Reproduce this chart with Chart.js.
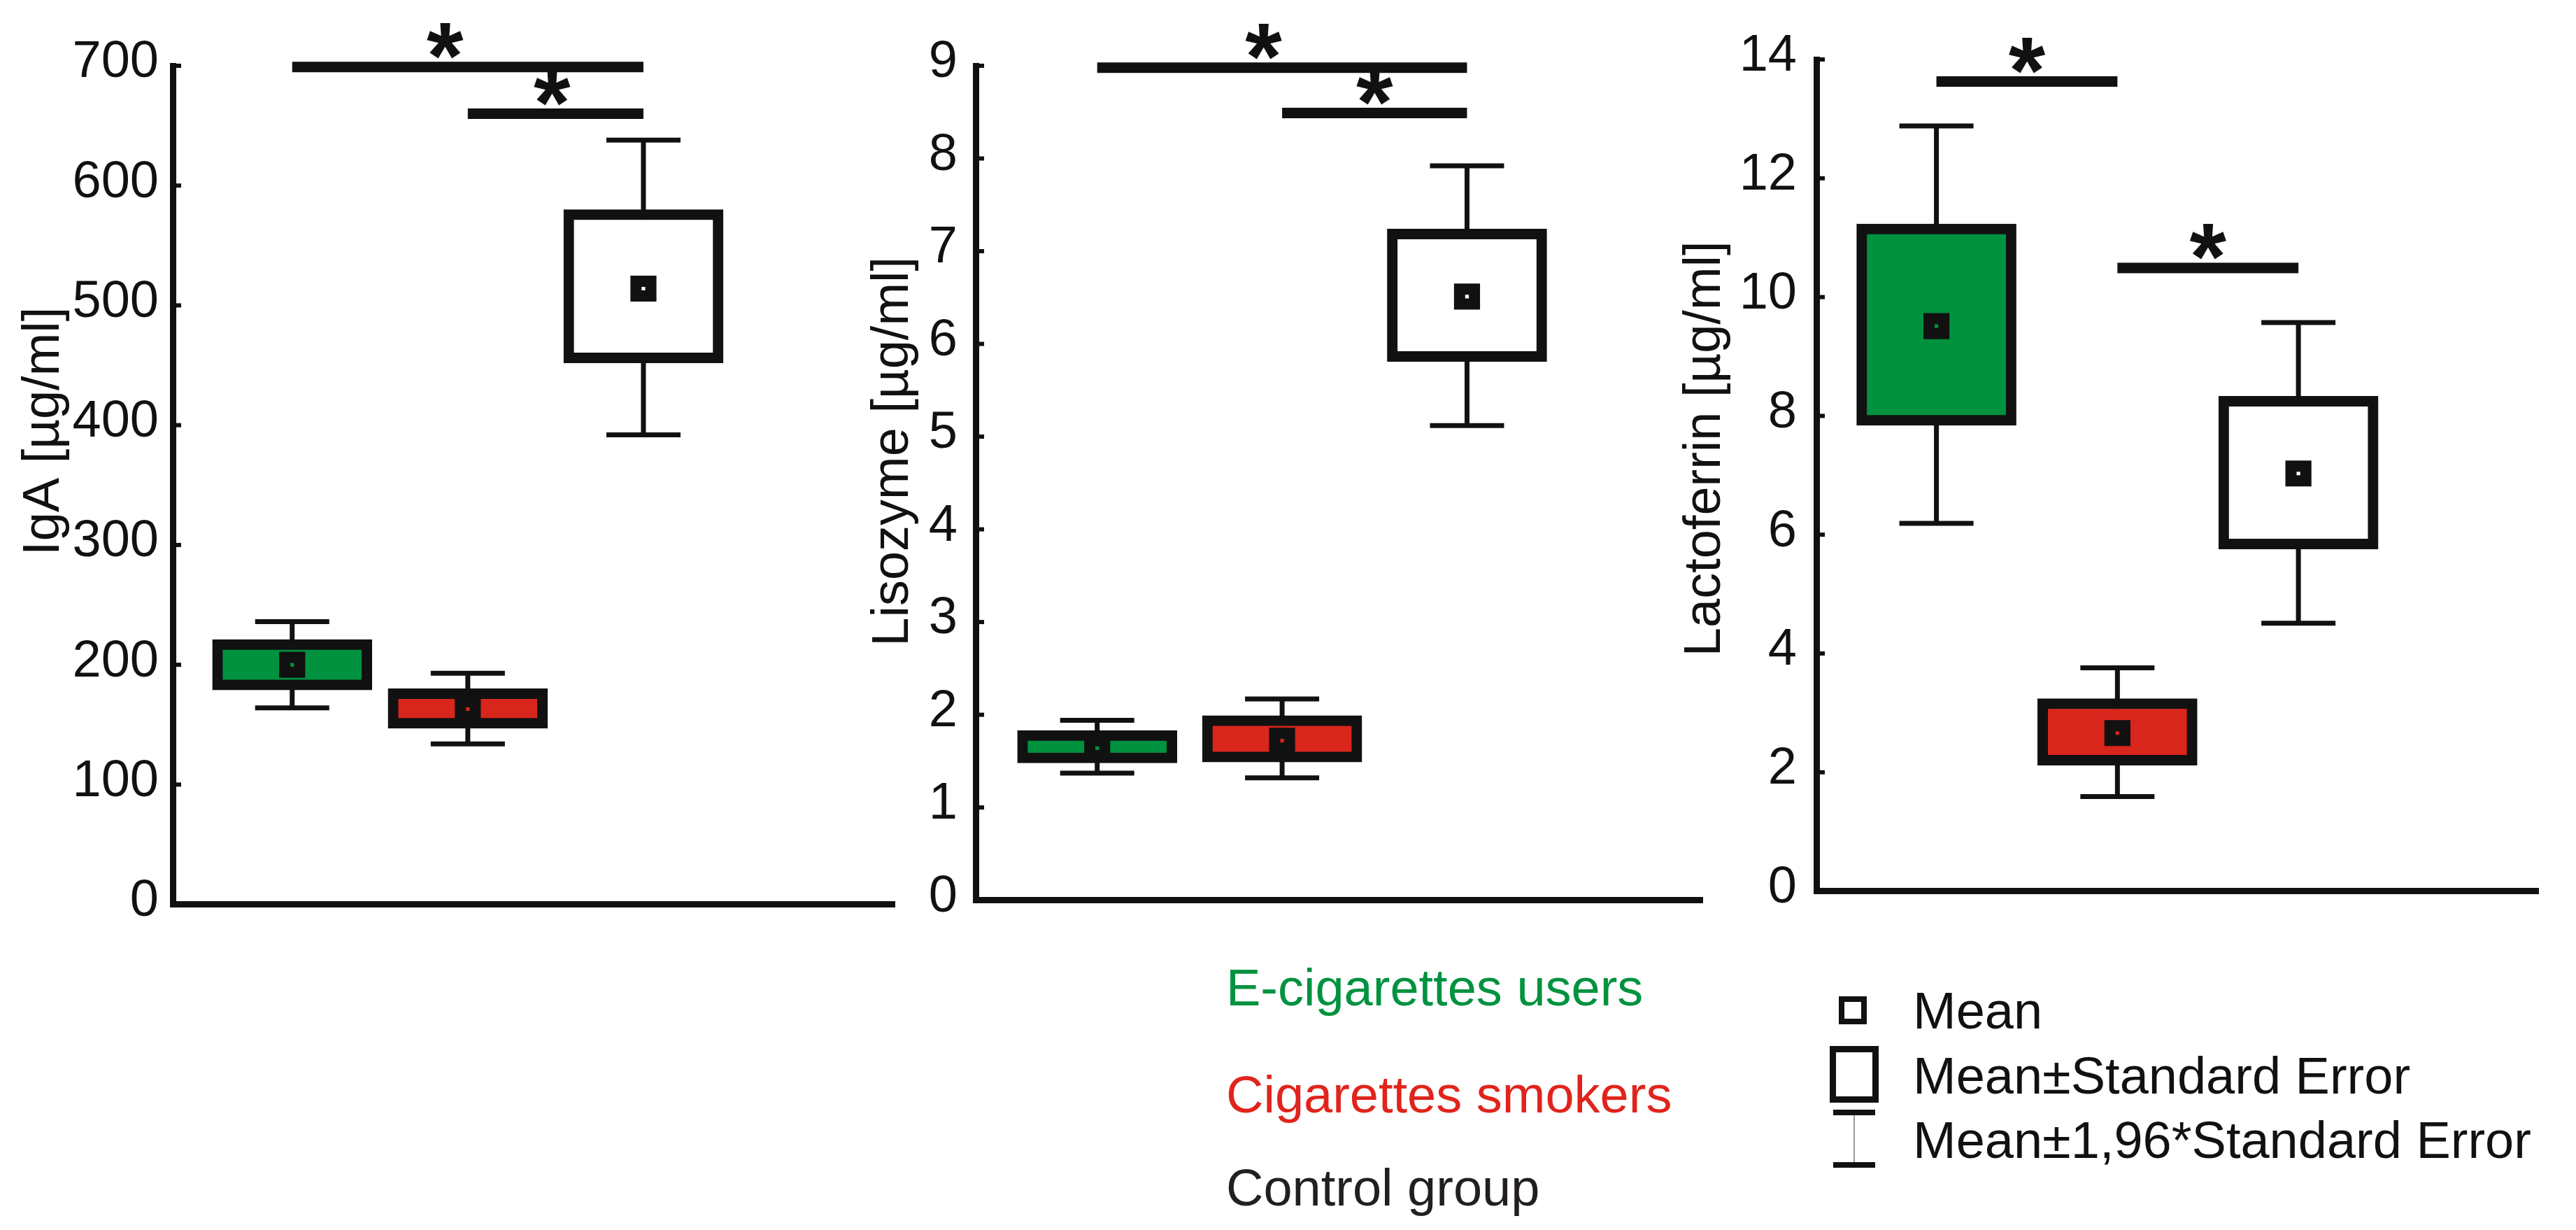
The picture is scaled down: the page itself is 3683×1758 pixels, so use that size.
<!DOCTYPE html>
<html>
<head>
<meta charset="utf-8">
<script src="https://cdn.jsdelivr.net/npm/chart.js@4.4.0/dist/chart.umd.min.js"></script>
<style>
  html, body { margin: 0; padding: 0; background: #fff; }
  #page { position: relative; width: 3683px; height: 1758px; overflow: hidden; background: #fff;
          font-family: "Liberation Sans", Arial, Helvetica, sans-serif; }
  canvas { position: absolute; }
  .txt { position: absolute; font-size: 74px; line-height: 80px; height: 80px; white-space: nowrap; }
  .sym { position: absolute; box-sizing: border-box; }
</style>
</head>
<body>
<div id="page">
  <canvas id="c1" width="1310" height="1357" style="left:0px;top:0px"></canvas>
  <canvas id="c2" width="1265" height="1357" style="left:1200px;top:0px"></canvas>
  <canvas id="c3" width="1280" height="1346" style="left:2380px;top:0px"></canvas>

  <div class="txt" style="left:1753px;top:1372px;color:#00923f">E-cigarettes users</div>
  <div class="txt" style="left:1753px;top:1525px;color:#e0241c">Cigarettes smokers</div>
  <div class="txt" style="left:1753px;top:1658px;color:#231f20">Control group</div>

  <div class="sym" style="left:2629px;top:1424px;width:40px;height:40px;border:8px solid #111;background:#fff"></div>
  <div class="txt" style="left:2735px;top:1405px;color:#111">Mean</div>

  <div class="sym" style="left:2616px;top:1495px;width:70px;height:81px;border:9px solid #111;background:#fff"></div>
  <div class="txt" style="left:2735px;top:1498px;color:#111">Mean±Standard Error</div>

  <div class="sym" style="left:2621px;top:1586px;width:60px;height:8px;background:#111"></div>
  <div class="sym" style="left:2650px;top:1594px;width:2px;height:67px;background:#999"></div>
  <div class="sym" style="left:2621px;top:1661px;width:60px;height:8px;background:#111"></div>
  <div class="txt" style="left:2735px;top:1590px;color:#111">Mean±1,96*Standard Error</div>
</div>
<script>
const font = "'Liberation Sans', Arial, Helvetica, sans-serif";
const ink = '#111111';

// groups, same order in every panel
const groups = ['E-cigarettes users', 'Cigarettes smokers', 'Control group'];
const groupPos = [1, 2, 3];
const groupFill = ['#00923f', '#d9261c', '#ffffff'];

// IgA [µg/ml]
const igaTicks = [0, 100, 200, 300, 400, 500, 600, 700];
const igaMean = [200, 163, 514];
const igaSe = [[179, 221], [147, 180], [452, 580]];
const igaCi = [[164, 236], [134, 193], [392, 638]];
const igaSig = [[1, 3, 699, 1.87], [2, 3, 660, 2.48]]; // from, to, level, star position

// Lisozyme [µg/ml]
const lisTicks = [0, 1, 2, 3, 4, 5, 6, 7, 8, 9];
const lisMean = [1.64, 1.72, 6.51];
const lisSe = [[1.48, 1.83], [1.49, 1.99], [5.81, 7.24]];
const lisCi = [[1.37, 1.94], [1.32, 2.17], [5.12, 7.92]];
const lisSig = [[1, 3, 8.98, 1.9], [2, 3, 8.49, 2.5]];

// Lactoferrin [µg/ml]
const lacTicks = [0, 2, 4, 6, 8, 10, 12, 14];
const lacMean = [9.51, 2.66, 7.03];
const lacSe = [[7.84, 11.23], [2.12, 3.24], [5.76, 8.33]];
const lacCi = [[6.19, 12.88], [1.59, 3.76], [4.51, 9.57]];
const lacSig = [[1, 2, 13.63, 1.5], [2, 3, 10.49, 2.5]];

const capW = 106;

const panels = [
  { id: 'c1', title: 'IgA [µg/ml]', ticks: igaTicks, mean: igaMean, se: igaSe, ci: igaCi, sig: igaSig,
    xMin: 0.32, xMax: 4.43, axisW: 247, padTop: 94, padBottom: 50, titleDx: 183, titleDy: 77, tickPad: 20 },
  { id: 'c2', title: 'Lisozyme [µg/ml]', ticks: lisTicks, mean: lisMean, se: lisSe, ci: lisCi, sig: lisSig,
    xMin: 0.343, xMax: 4.273, axisW: 195, padTop: 94, padBottom: 50, titleDx: 117, titleDy: 45, tickPad: 26 },
  { id: 'c3', title: 'Lactoferrin [µg/ml]', ticks: lacTicks, mean: lacMean, se: lacSe, ci: lacCi, sig: lacSig,
    xMin: 0.337, xMax: 4.325, axisW: 217, padTop: 85, padBottom: 51, titleDx: 158, titleDy: 38, tickPad: 28 }
];

function drawPanel(p) {
  const extras = {
    id: 'extras',
    beforeDatasetsDraw(chart) {
      // whiskers: mean ± 1.96 SE
      const { ctx, scales: { x, y } } = chart;
      ctx.save();
      ctx.strokeStyle = ink;
      ctx.lineWidth = 7;
      p.ci.forEach((r, i) => {
        const cx = x.getPixelForValue(groupPos[i]);
        const y0 = y.getPixelForValue(r[0]);
        const y1 = y.getPixelForValue(r[1]);
        ctx.beginPath();
        ctx.moveTo(cx, y0); ctx.lineTo(cx, y1);
        ctx.moveTo(cx - capW / 2, y0); ctx.lineTo(cx + capW / 2, y0);
        ctx.moveTo(cx - capW / 2, y1); ctx.lineTo(cx + capW / 2, y1);
        ctx.stroke();
      });
      ctx.restore();
    },
    afterDatasetsDraw(chart) {
      // significance bars with asterisks
      const { ctx, scales: { x, y } } = chart;
      ctx.save();
      ctx.strokeStyle = ink;
      ctx.fillStyle = ink;
      ctx.lineWidth = 15;
      ctx.font = 'bold 135px ' + font;
      ctx.textAlign = 'center';
      ctx.textBaseline = 'alphabetic';
      const m = ctx.measureText('*');
      p.sig.forEach(s => {
        const yy = y.getPixelForValue(s[2]);
        ctx.beginPath();
        ctx.moveTo(x.getPixelForValue(s[0]), yy);
        ctx.lineTo(x.getPixelForValue(s[1]), yy);
        ctx.stroke();
        const cy = yy - 37;
        ctx.fillText('*', x.getPixelForValue(s[3]), cy + (m.actualBoundingBoxAscent - m.actualBoundingBoxDescent) / 2);
      });
      ctx.restore();
    },
    afterDraw(chart) {
      const { ctx, chartArea, scales: { y } } = chart;
      ctx.save();
      // small inward tick marks
      ctx.strokeStyle = ink;
      ctx.lineWidth = 6;
      y.ticks.forEach(t => {
        const yy = y.getPixelForValue(t.value);
        ctx.beginPath();
        ctx.moveTo(chartArea.left, yy);
        ctx.lineTo(chartArea.left + 12, yy);
        ctx.stroke();
      });
      // y axis title
      ctx.translate(chartArea.left - p.titleDx, (chartArea.top + chartArea.bottom) / 2 - p.titleDy);
      ctx.rotate(-Math.PI / 2);
      ctx.fillStyle = ink;
      ctx.font = '74px ' + font;
      ctx.textAlign = 'center';
      ctx.textBaseline = 'middle';
      ctx.fillText(p.title, 0, 0);
      ctx.restore();
    }
  };

  new Chart(document.getElementById(p.id), {
    type: 'bar',
    data: {
      datasets: [
        {
          type: 'scatter',
          label: 'Mean',
          data: p.mean.map((v, i) => ({ x: groupPos[i], y: v })),
          pointStyle: 'rect',
          pointRadius: 15,
          pointBorderWidth: 16,
          pointBorderColor: ink,
          pointBackgroundColor: groupFill,
          order: 0
        },
        {
          type: 'bar',
          label: 'Mean±Standard Error',
          data: p.se.map((r, i) => ({ x: groupPos[i], y: r })),
          backgroundColor: groupFill,
          borderColor: ink,
          borderWidth: 15,
          borderSkipped: false,
          barThickness: 228,
          order: 1
        }
      ]
    },
    options: {
      responsive: false,
      animation: false,
      events: [],
      layout: { padding: { left: 0, right: 5, top: p.padTop, bottom: p.padBottom } },
      plugins: { legend: { display: false }, tooltip: { enabled: false } },
      scales: {
        x: {
          type: 'linear',
          min: p.xMin,
          max: p.xMax,
          offset: false,
          ticks: { display: false },
          grid: { display: false, drawTicks: false },
          border: { display: true, color: ink, width: 9 },
          afterFit: s => { s.height = 0; }
        },
        y: {
          min: p.ticks[0],
          max: p.ticks[p.ticks.length - 1],
          afterBuildTicks: s => { s.ticks = p.ticks.map(v => ({ value: v })); },
          afterFit: s => { s.width = p.axisW; },
          grid: { display: false, drawTicks: false },
          border: { display: true, color: ink, width: 9 },
          ticks: { color: ink, padding: p.tickPad, labelOffset: -4, font: { family: font, size: 74 } }
        }
      }
    },
    plugins: [extras]
  });
}

panels.forEach(drawPanel);
</script>
</body>
</html>
